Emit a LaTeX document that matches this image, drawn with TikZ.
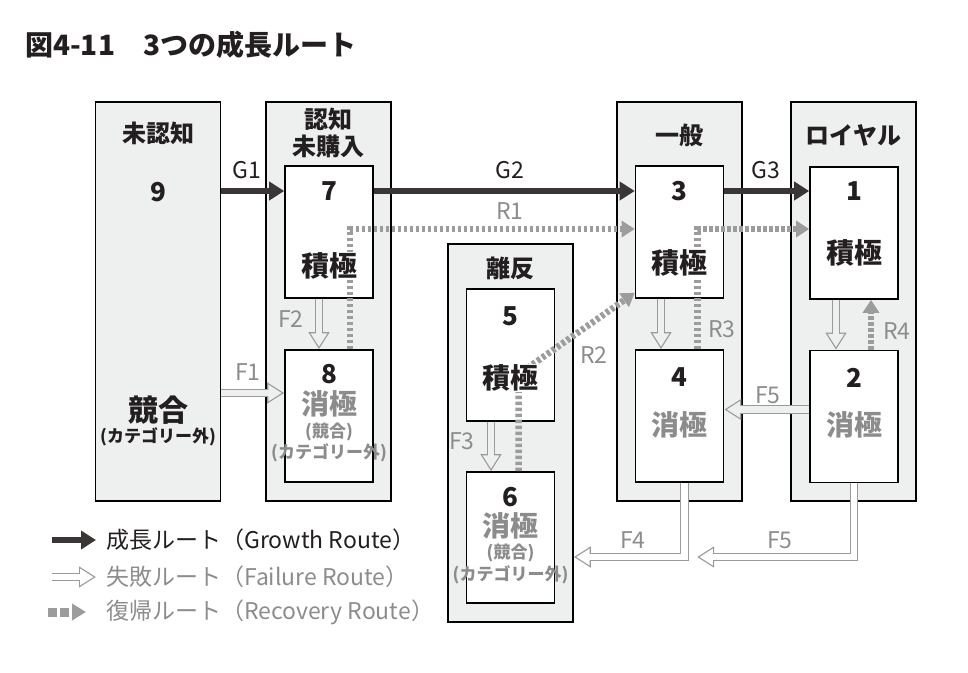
\documentclass[tikz,border=0pt]{standalone}
\usepackage{fontspec}
\setmainfont{Noto Sans CJK JP}
\usepackage{tikz}
\usetikzlibrary{arrows.meta,positioning,calc}
\definecolor{boxgray}{HTML}{EEEFEF}
\definecolor{growdark}{HTML}{3B3636}
\definecolor{failgray}{HTML}{9A9A9A}
\definecolor{recgray}{HTML}{9C9C9C}
\definecolor{txtgray}{HTML}{8C8C8C}
\definecolor{txtdark}{HTML}{231F20}

\begin{document}
\begin{tikzpicture}
[x=1pt,y=-1pt,
 outer/.style={draw=black,fill=boxgray,line width=1.6pt,inner sep=0pt,minimum width=125,minimum height=399},
 inner/.style={draw=black,fill=white,line width=1.6pt,inner sep=0pt,minimum width=88,minimum height=132},
 hd/.style={text=txtdark,font=\bfseries\fontsize{24}{27}\selectfont,align=center,inner sep=0pt},
 num/.style={text=txtdark,font=\bfseries\fontsize{26}{28}\selectfont,inner sep=0pt},
 act/.style={text=txtdark,font=\bfseries\fontsize{28}{30}\selectfont,fill=white,inner sep=1pt},
 pas/.style={text=txtgray,font=\bfseries\fontsize{28}{30}\selectfont,fill=white,inner sep=1pt},
 sm/.style={text=txtgray,font=\bfseries\fontsize{17}{19}\selectfont,inner sep=0pt},
 glab/.style={text=txtdark,font=\fontsize{23}{25}\selectfont,inner sep=0pt},
 flab/.style={text=txtgray,font=\fontsize{23}{25}\selectfont,inner sep=0pt},
 lg/.style={font=\fontsize{23}{25}\selectfont,anchor=west,inner sep=0pt},
 growarrow/.style={draw=growdark,line width=6.5pt,-{Triangle[length=15pt,width=18pt]}},
 failarrow/.style={draw=failgray,line width=8.9pt,-{Triangle[length=17pt,width=20pt]},
   postaction={draw=#1,line width=6.5pt,shorten >=2.4pt,-{Triangle[length=13.4pt,width=15.8pt]}}},
 failarrow/.default=boxgray,
 recarrow/.style={draw=recgray,line width=6.5pt,dash pattern=on 3.5pt off 2.5pt,-{Triangle[length=13pt,width=16pt]}}]
\useasboundingbox (0,0) rectangle (968,672);

% title
\node[anchor=west,inner sep=0pt,text=txtdark,font=\bfseries\fontsize{28}{30}\selectfont] (title) at (25,45) {図4-11　3つの成長ルート};

% segments
\node[outer] (unk) at (158,301.5) {};
\node[outer] (aware) at (328.5,301.5) {};
\node[outer,minimum height=378] (lapse) at (510.5,433) {};
\node[outer] (gen) at (679.5,301.5) {};
\node[outer] (loyal) at (853.5,301.5) {};

% states
\node[inner] (b7) at (329,232) {};
\node[inner] (b8) at (329,416) {};
\node[inner] (b5) at (510.5,355) {};
\node[inner,minimum height=131] (b6) at (510.5,537.5) {};
\node[inner] (b3) at (679.5,232) {};
\node[inner] (b4) at (679.5,416) {};
\node[inner] (b1) at (854,233) {};
\node[inner] (b2) at (854,416.5) {};

% recovery routes
\draw[recarrow] ([xshift=21pt]b8.north) |- ([yshift=3pt]b3.west);
\draw[recarrow] ([xshift=18pt]b4.north) |- ([yshift=4pt]b1.west);
\draw[recarrow] ([xshift=8pt]b6.north) -- ++(0,-97) -- ([yshift=6pt]b3.south west);
\draw[recarrow] ([xshift=17pt]b2.north) -- ([xshift=17pt]b1.south);

% numbers
\node[num] (n9) at (158,192) {9};
\node[num] (n7) at (329,191) {7};
\node[num] (n8) at (329,374) {8};
\node[num] (n5) at (510.5,316) {5};
\node[num] (n6) at (510.5,497) {6};
\node[num] (n3) at (679.5,191) {3};
\node[num] (n4) at (679.5,377) {4};
\node[num] (n1) at (854,191) {1};
\node[num] (n2) at (854,378) {2};

% growth routes
\draw[growarrow] (unk.east |- n7) -- (b7.west |- n7);
\draw[growarrow] (b7.east |- n7) -- (b3.west |- n3);
\draw[growarrow] (b3.east |- n3) -- (b1.west |- n1);

% failure routes
\coordinate (f1) at ([yshift=23pt]b8.west);
\coordinate (f5a) at ([yshift=7pt]b2.west);
\draw[failarrow] (unk.east |- f1) -- (f1);
\draw[failarrow] ([xshift=-10pt]b7.south) -- ([xshift=-10pt]b8.north);
\draw[failarrow] ([xshift=-19.5pt]b5.south) -- ([xshift=-19.5pt]b6.north);
\draw[failarrow] ([xshift=-18.5pt]b3.south) -- ([xshift=-18.5pt]b4.north);
\draw[failarrow] ([xshift=-18pt]b1.south) -- ([xshift=-18pt]b2.north);
\draw[failarrow] (f5a) -- (b4.east |- f5a);
\coordinate (f4) at ([yshift=-124pt]lapse.east);
\coordinate (f5) at (697,557);
\draw[failarrow=white] ([xshift=5pt]b4.south) |- (f4);
\draw[failarrow=white] (b2.south) |- (f5);

% labels
\node[hd] (tu) at (158,133) {未認知};
\node[hd,font=\bfseries\fontsize{24}{27}\selectfont] (ta) at (328.5,133) {認知\\未購入};
\node[hd] (tl) at (510.5,268) {離反};
\node[hd] (tg) at (679.5,135) {一般};
\node[hd] (ty) at (853.5,135) {ロイヤル};

\node[text=txtdark,font=\bfseries\fontsize{30}{32}\selectfont,inner sep=0pt] (c9) at (158,410) {競合};
\node[sm,text=txtdark] (o9) at (158,437) {(カテゴリー外)};

\node[act] (a7) at (329,266) {積極};
\node[pas,fill=none] (p8) at (329,404) {消極};
\node[sm] (c8) at (329,432) {(競合)};
\node[sm] (o8) at (329,453) {(カテゴリー外)};
\node[act] (a5) at (510.5,378) {積極};
\node[pas,fill=none] (p6) at (510.5,526) {消極};
\node[sm] (c6) at (510.5,553) {(競合)};
\node[sm] (o6) at (510.5,575) {(カテゴリー外)};
\node[act] (a3) at (679.5,263) {積極};
\node[pas] (p4) at (679.5,425) {消極};
\node[act] (a1) at (854,253) {積極};
\node[pas] (p2) at (854,425) {消極};

\node[glab] (g1) at (247,170) {G1};
\node[glab] (g2) at (510,170) {G2};
\node[glab] (g3) at (766,170) {G3};
\node[flab] (lf1) at (248,372) {F1};
\node[flab] (lf2) at (291,319) {F2};
\node[flab] (lf3) at (462,441) {F3};
\node[flab] (lf4) at (633,540) {F4};
\node[flab] (lf5a) at (768,395) {F5};
\node[flab] (lf5b) at (780,540) {F5};
\node[flab] (lr1) at (510,211) {R1};
\node[flab] (lr2) at (594,355) {R2};
\node[flab] (lr3) at (722,329) {R3};
\node[flab] (lr4) at (897,331) {R4};

% legend
\coordinate (la) at (52,540);
\coordinate (lb) at (96,540);
\coordinate (lc) at (52,577);
\coordinate (ld) at (96,577);
\coordinate (le) at (48,612);
\coordinate (lf) at (86,612);
\draw[growarrow,line width=5.5pt] (la) -- (lb);
\draw[failarrow=white] (lc) -- (ld);
\draw[recarrow,line width=9pt,dash pattern=on 9pt off 3pt,-{Triangle[length=14pt,width=16pt]}] (le) -- (lf);
\node[lg,text=txtdark] (lg1) at (106,540) {成長ルート（Growth Route）};
\node[lg,text=txtgray] (lg2) at (106,577) {失敗ルート（Failure Route）};
\node[lg,text=txtgray] (lg3) at (106,612) {復帰ルート（Recovery Route）};
\end{tikzpicture}
\end{document}
